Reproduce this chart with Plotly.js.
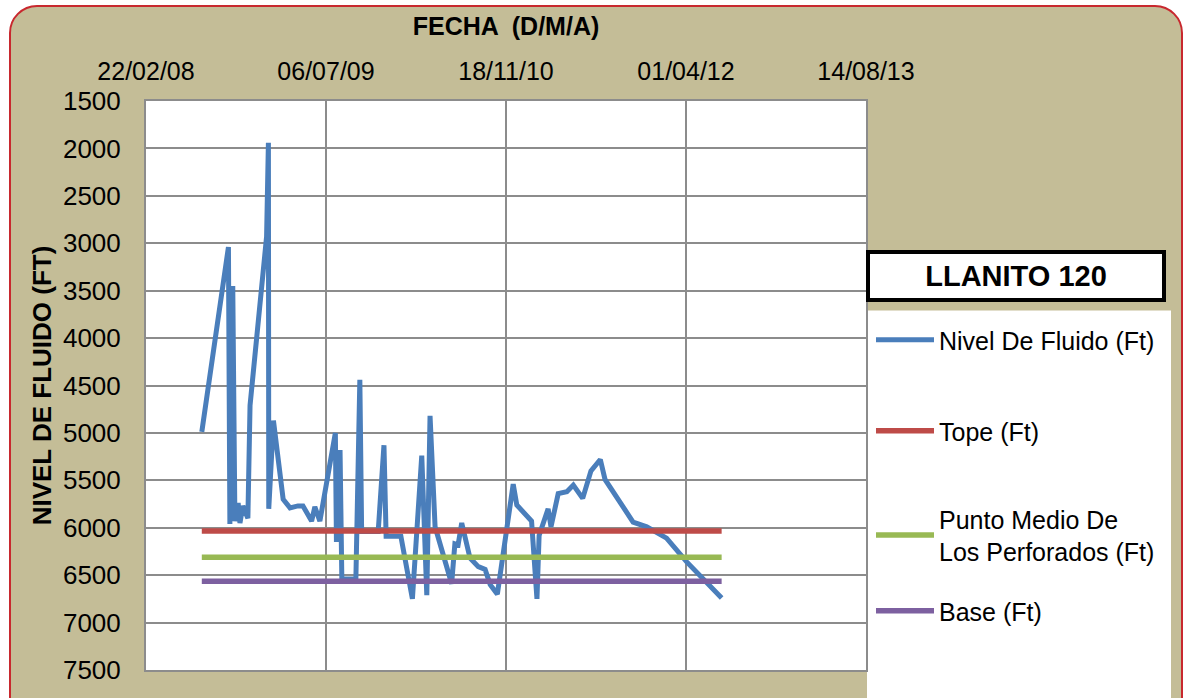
<!DOCTYPE html>
<html>
<head>
<meta charset="utf-8">
<script src="https://cdn.plot.ly/plotly-3.0.1.min.js"></script>
<style>
  html, body { margin:0; padding:0; background:#ffffff; width:1188px; height:698px; overflow:hidden; }
  #frame { position:absolute; left:9px; top:5px; width:1174px; height:730px; background:#C4BD97;
           border:2px solid #C8282E; border-radius:28px; box-sizing:border-box; }
  #chart { position:absolute; left:0; top:0; width:1188px; height:698px; }
</style>
</head>
<body>
<div id="frame"></div>
<div id="chart"></div>
<script>
// Fluid level measurements (date, feet)
const fechas = [
 '2008-07-26','2008-10-08','2008-10-12','2008-10-20','2008-10-26','2008-11-04','2008-11-09','2008-11-17','2008-12-01','2008-12-07',
 '2009-01-22','2009-01-27','2009-01-28','2009-02-10','2009-03-09','2009-03-28','2009-04-19','2009-05-03','2009-05-27','2009-06-05',
 '2009-06-19','2009-06-25','2009-08-01','2009-08-04','2009-08-14','2009-08-19','2009-09-27','2009-10-08','2009-10-13','2009-11-28',
 '2009-12-14','2009-12-20','2010-01-30','2010-03-03','2010-03-29','2010-04-12','2010-04-21','2010-05-05','2010-06-20','2010-06-29',
 '2010-07-08','2010-07-18','2010-08-10','2010-09-02','2010-09-21','2010-10-05','2010-10-25','2010-12-08','2010-12-18','2011-01-28',
 '2011-02-12','2011-02-18','2011-03-15','2011-03-23','2011-04-12','2011-05-06','2011-05-24','2011-06-19','2011-07-12','2011-08-07',
 '2011-08-20','2011-11-06','2011-12-14','2012-02-07','2012-04-03','2012-07-09'];
const nivelFluido = [
 4990,3040,5960,3450,5930,5740,5950,5770,5900,4710,
 2930,1940,5800,4870,5700,5790,5770,5770,5930,5780,
 5930,5800,5000,6150,5180,6540,6540,4440,6040,6040,
 5130,6090,6090,6750,5240,6710,4820,5990,6590,6170,
 6180,5950,6320,6410,6440,6600,6700,5540,5760,5930,
 6750,6080,5800,5990,5640,5620,5550,5690,5400,5280,
 5490,5940,5990,6110,6360,6740];

// Reference levels (constant over the measurement period)
const fechasRef = ['2008-07-26','2012-07-09'];
const tope = [6035, 6035];
const puntoMedio = [6310, 6310];
const base = [6565, 6565];

// Axis ticks
const tickFechas = ['2008-02-22','2009-07-06','2010-11-18','2012-04-01','2013-08-14'];
const tickTextos = ['22/02/08','06/07/09','18/11/10','01/04/12','14/08/13'];
const nombres = ['Nivel De Fluido (Ft)','Tope (Ft)','Punto Medio De<br>Los Perforados (Ft)','Base (Ft)'];
const colores = ['#4A7EBB','#BE4B48','#98B954','#7D60A0'];

const FONT = 'Liberation Sans, Arial, sans-serif';

const traces = [
  {x:fechas, y:nivelFluido, name:nombres[0], legend:'legend', mode:'lines', line:{color:colores[0], width:5}},
  {x:fechasRef, y:tope, name:nombres[1], legend:'legend2', mode:'lines', line:{color:colores[1], width:5.5}},
  {x:fechasRef, y:puntoMedio, name:nombres[2], legend:'legend3', mode:'lines', line:{color:colores[2], width:5.5}},
  {x:fechasRef, y:base, name:nombres[3], legend:'legend4', mode:'lines', line:{color:colores[3], width:5.5}}
];

const L = 146, R = 866, T = 101, B = 670;
const px = v => (v - L) / (R - L);
const py = v => (B - v) / (B - T);

function leg(yc) {
  return {x:px(871), y:py(yc), xanchor:'left', yanchor:'middle', bgcolor:'rgba(0,0,0,0)',
          font:{family:FONT, size:25, color:'#000'}, itemwidth:58, borderwidth:0};
}

const layout = {
  width:1188, height:698,
  margin:{l:L, r:1188-R, t:T, b:698-B, pad:0},
  paper_bgcolor:'rgba(0,0,0,0)',
  plot_bgcolor:'#ffffff',
  font:{family:FONT, color:'#000000', size:24},
  showlegend:true,
  legend:leg(340),
  legend2:leg(431),
  legend3:leg(535),
  legend4:leg(611),
  xaxis:{type:'date', side:'top', range:['2008-02-22','2013-08-14'],
         tickvals:tickFechas, ticktext:tickTextos, tickmode:'array',
         ticks:'outside', ticklen:9, tickcolor:'rgba(0,0,0,0)',
         tickfont:{family:FONT, size:25, color:'#000'},
         showgrid:true, gridcolor:'#8C8C8C', gridwidth:2,
         showline:true, linecolor:'#8C8C8C', linewidth:2, mirror:true, zeroline:false,
         title:{text:'<b>FECHA  (D/M/A)</b>', font:{family:FONT, size:25, color:'#000'}, standoff:14}},
  yaxis:{range:[7500,1500], tickmode:'linear', tick0:1500, dtick:500,
         ticks:'outside', ticklen:18, tickcolor:'rgba(0,0,0,0)',
         tickfont:{family:FONT, size:26, color:'#000'},
         showgrid:true, gridcolor:'#8C8C8C', gridwidth:2,
         showline:true, linecolor:'#8C8C8C', linewidth:2, mirror:true, zeroline:false,
         title:{text:'<b>NIVEL DE FLUIDO (FT)</b>', font:{family:FONT, size:26, color:'#000'}, standoff:4}},
  shapes:[
    {type:'rect', xref:'paper', yref:'paper', x0:px(867), x1:px(1171), y0:py(700), y1:py(310.5),
     fillcolor:'#ffffff', line:{width:0}, layer:'below'}
  ],
  annotations:[
    {xref:'paper', yref:'paper', x:px(1016), y:py(276), xanchor:'center', yanchor:'middle',
     text:'<b>LLANITO 120</b>', showarrow:false, font:{family:FONT, size:29, color:'#000'},
     bgcolor:'#ffffff', bordercolor:'#000000', borderwidth:4, borderpad:0, width:292, height:44}
  ]
};

Plotly.newPlot('chart', traces, layout, {staticPlot:true, displayModeBar:false});
</script>
</body>
</html>
